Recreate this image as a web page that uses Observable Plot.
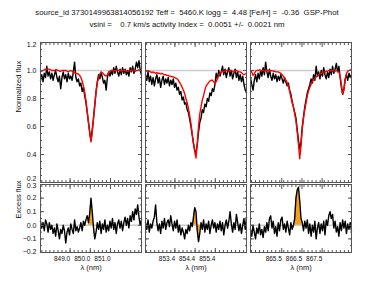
<!DOCTYPE html>
<html><head><meta charset="utf-8">
<script src="https://cdn.jsdelivr.net/npm/d3@7"></script>
<script src="https://cdn.jsdelivr.net/npm/@observablehq/plot@0.6"></script>
<style>
body{margin:0;background:#fff;}
#wrap{position:relative;width:374px;height:281px;font-family:"Liberation Sans",Arial,Helvetica,sans-serif;color:#111;overflow:hidden;}
.t{position:absolute;left:0;width:374px;text-align:center;white-space:pre;font-size:7.8px;line-height:12px;}
#top{position:absolute;left:0;top:32px;}
#bot{position:absolute;left:0;top:183px;}
</style></head><body>
<div id="wrap">
<div class="t" id="t1" style="top:7px"></div>
<div class="t" id="t2" style="top:19px"></div>
<div id="top"></div><div id="bot"></div>
</div>
<script>
const titleLine1 = "source_id 3730149963814056192 Teff =  5460.K logg =  4.48 [Fe/H] =  -0.36  GSP-Phot";
const titleLine2 = "vsini =    0.7 km/s activity Index =  0.0051 +/-  0.0021 nm";
const yLabelTop = "Normalized flux";
const yLabelBottom = "Excess flux";
const xLabel = "λ (nm)";

const panels = ["850", "854", "866"];
const lineCenters = [850.035, 854.444, 866.452];
const halfRange = 2.5;      // nm each side of line centre
const sampleStep = 0.0625;  // nm per sample
const xTickLabels = [["849.0","850.0","851.0"],["853.4","854.4","855.4"],["865.5","866.5","867.5"]];
const excessWindows = [[849.90, 850.23], [854.31, 854.70], [866.13, 866.52]];
const yTicksTop = [0.2, 0.4, 0.6, 0.8, 1.0, 1.2];
const yTicksBottom = [-0.2, -0.1, 0.0, 0.1, 0.2, 0.3];

// observed normalized flux
const obs850 = [0.93,0.97,0.92,0.98,0.95,1.03,0.96,0.99,0.94,0.98, 0.93,0.97,1.0,0.95,0.92,0.96,0.87,0.95,0.99,0.94, 0.97,0.92,0.98,0.94,0.96,0.93,0.99,1.06,0.95,0.92, 0.94,0.89,0.91,0.85,0.88,0.82,0.77,0.7,0.63,0.56, 0.5,0.58,0.66,0.75,0.85,0.92,0.97,0.94,0.99,0.95, 0.91,0.93,0.86,0.95,0.99,0.96,1.0,0.97,1.02,0.98, 1.03,0.99,0.96,1.01,0.97,1.02,0.98,1.01,0.97,1.0, 0.96,1.02,0.99,1.03,0.98,1.01,1.06,1.02,1.07,1.0,0.97];
const obs854 = [0.97,0.93,0.99,0.92,0.96,0.9,0.95,0.89,0.94,0.97, 0.91,0.95,0.88,0.93,0.96,0.9,0.94,0.91,0.95,0.89, 0.93,0.9,0.94,0.88,0.91,0.86,0.88,0.83,0.85,0.79, 0.81,0.76,0.77,0.72,0.7,0.65,0.6,0.54,0.48,0.43, 0.41,0.47,0.56,0.63,0.66,0.72,0.7,0.76,0.74,0.8, 0.78,0.84,0.82,0.87,0.85,0.9,0.98,0.94,1.0,0.96, 0.99,1.03,0.97,1.01,0.95,0.99,1.02,0.96,1.0,0.94, 0.98,1.01,0.95,0.99,0.93,0.97,0.92,0.96,0.9,0.86,0.84];
const obs866 = [0.95,0.9,0.86,0.93,0.97,0.92,0.98,0.94,1.0,0.96, 1.02,0.97,1.06,0.99,0.95,1.01,0.96,0.93,0.98,0.94, 0.97,0.92,0.96,0.93,0.97,0.94,0.91,0.95,0.92,0.89, 0.91,0.86,0.83,0.78,0.74,0.7,0.66,0.58,0.5,0.44, 0.49,0.6,0.67,0.74,0.79,0.84,0.87,0.9,0.94,0.91, 0.97,0.93,1.03,0.96,0.99,0.94,1.0,0.96,1.02,0.97, 0.94,0.99,0.95,1.01,0.97,1.03,0.98,1.01,1.05,0.99, 1.03,0.95,0.88,0.83,0.87,0.94,0.97,0.93,0.98,0.95,0.97];
// model spectrum
const model850 = [0.99,0.995,1.0,1.005,1.01,1.01,1.01,1.01,1.005,1.0, 1.0,1.0,1.005,1.005,1.0,0.995,0.995,1.0,1.0,1.0, 1.0,0.995,0.99,0.995,1.0,0.995,0.99,0.985,0.98,0.978, 0.975,0.965,0.95,0.925,0.89,0.845,0.785,0.71,0.63,0.55, 0.49,0.56,0.665,0.76,0.845,0.91,0.95,0.975,0.985,0.985, 0.975,0.965,0.96,0.97,0.985,0.995,1.0,1.0,0.995,1.0, 1.0,1.005,1.0,1.0,0.995,1.0,1.0,1.0,0.995,0.995, 1.0,1.0,1.005,1.0,1.0,0.995,1.0,1.0,1.005,1.0,1.0];
const model854 = [1.0,0.995,0.99,0.995,0.99,0.985,0.99,0.985,0.98,0.985, 0.98,0.98,0.975,0.98,0.975,0.97,0.97,0.965,0.965,0.96, 0.96,0.955,0.955,0.95,0.945,0.94,0.93,0.915,0.9,0.88, 0.86,0.835,0.8,0.77,0.73,0.68,0.62,0.55,0.48,0.42, 0.375,0.48,0.6,0.69,0.74,0.79,0.82,0.86,0.89,0.9, 0.915,0.925,0.93,0.93,0.92,0.91,0.92,0.945,0.965,0.98, 0.99,0.995,0.99,0.995,1.0,1.0,0.995,1.0,1.0,0.995, 0.99,0.995,1.0,0.995,0.99,0.99,0.985,0.975,0.97,0.975,0.98];
const model866 = [1.0,0.99,0.965,0.975,0.995,1.0,1.0,1.005,1.0,1.0, 1.0,0.995,1.0,1.0,1.0,0.995,0.995,1.0,0.995,0.995, 0.99,0.99,0.99,0.985,0.98,0.97,0.96,0.945,0.93,0.915, 0.89,0.85,0.81,0.77,0.74,0.69,0.64,0.56,0.47,0.37, 0.46,0.58,0.66,0.72,0.77,0.82,0.855,0.88,0.9,0.92, 0.935,0.945,0.955,0.96,0.97,0.975,0.98,0.985,0.99,0.99, 0.995,0.995,1.0,0.995,1.0,1.0,1.0,0.995,1.0,0.995, 0.99,0.96,0.9,0.83,0.86,0.93,0.98,0.995,1.0,1.005,1.0];
// excess flux
const excess850 = [0.03,-0.02,0.02,-0.04,0.04,0.01,-0.05,0.02,-0.03,0.0, -0.06,-0.02,-0.08,0.01,-0.04,-0.1,-0.03,-0.06,0.0,-0.04, -0.13,-0.05,-0.02,-0.07,0.01,-0.03,-0.06,0.04,-0.04,-0.01, -0.05,-0.02,0.02,-0.04,0.03,0.0,0.04,0.07,0.02,0.09, 0.2,0.1,-0.02,-0.1,-0.05,0.02,-0.03,0.03,-0.06,0.01, -0.03,0.04,-0.05,0.0,-0.04,0.03,-0.02,0.05,-0.03,0.02, -0.06,0.01,0.04,-0.02,0.03,-0.04,0.02,0.06,0.0,0.05, -0.02,0.07,0.03,0.1,0.04,0.12,0.08,0.15,0.06,0.0,0.04];
const excess854 = [0.02,-0.03,0.04,-0.05,0.01,-0.02,0.03,0.06,0.15,0.02, -0.04,0.01,-0.06,0.03,-0.02,0.05,-0.03,0.02,0.04,-0.01, 0.07,0.01,-0.04,0.03,-0.02,0.04,-0.05,0.0,-0.07,-0.02, -0.05,-0.1,-0.03,-0.06,0.0,-0.04,0.02,-0.01,0.06,0.13, 0.1,-0.04,-0.12,-0.06,0.02,-0.03,0.04,-0.05,0.01,-0.03, 0.03,-0.06,0.0,0.04,-0.02,0.02,-0.05,0.01,-0.03,0.03, -0.04,0.02,-0.07,0.0,0.04,-0.02,0.03,0.1,0.01,-0.05, 0.02,-0.03,0.08,0.02,-0.04,0.01,-0.06,0.0,0.05,-0.03,0.06];
const excess866 = [-0.03,-0.08,0.0,-0.05,-0.1,-0.02,-0.06,0.01,-0.07,-0.03, -0.09,-0.01,-0.05,0.02,-0.04,0.05,0.07,-0.02,0.03,-0.06, -0.01,-0.08,0.02,-0.04,0.04,0.06,-0.03,0.01,-0.05,0.03, -0.02,-0.07,0.02,-0.03,0.0,0.05,0.2,0.26,0.28,0.18, 0.05,0.02,-0.04,0.03,-0.02,0.04,-0.06,0.01,-0.08,0.0, -0.05,0.03,-0.1,-0.02,0.02,-0.06,0.01,-0.04,0.03,-0.07, 0.04,0.0,0.07,0.1,0.05,0.08,-0.02,0.03,-0.05,-0.01, -0.08,0.02,-0.04,0.04,-0.02,0.03,-0.06,0.01,-0.03,0.02,-0.04];

document.getElementById("t1").textContent = titleLine1;
document.getElementById("t2").textContent = titleLine2;

const obsAll = [obs850, obs854, obs866];
const modelAll = [model850, model854, model866];
const excessAll = [excess850, excess854, excess866];

const rows = [];
panels.forEach((p, k) => {
  obsAll[k].forEach((v, i) => {
    const d = -halfRange + i * sampleStep;
    const wl = lineCenters[k] + d;
    rows.push({panel: p, d, wl, obs: v, model: modelAll[k][i], excess: excessAll[k][i],
      inWin: wl >= excessWindows[k][0] && wl <= excessWindows[k][1]});
  });
});
const winRows = rows.filter(r => r.inWin);

const xMajorRows = [];
const xMinorRows = [];
panels.forEach((p, k) => {
  xTickLabels[k].forEach(l => xMajorRows.push({panel: p, d: +l - lineCenters[k], label: l}));
  const lo = Math.ceil((lineCenters[k] - halfRange) / 0.2), hi = Math.floor((lineCenters[k] + halfRange) / 0.2);
  for (let j = lo; j <= hi; j++) xMinorRows.push({panel: p, d: j * 0.2 - lineCenters[k]});
});

const font = '"Liberation Sans", Arial, Helvetica, sans-serif';
const frameColor = "#555";
const style = {fontFamily: font, fontSize: "7px", background: "transparent", overflow: "visible", color: "#111"};
const fxOpts = {domain: panels, paddingInner: 4 / 105, paddingOuter: 0, axis: null};
const fmt = d3.format(".1f");

function ticks(yMajor, yMinor) {
  const o = {fill: "none", stroke: frameColor, label: null, facetAnchor: null};
  return [
    Plot.axisY(yMinor, {...o, anchor: "left", tickSize: -2}),
    Plot.axisY(yMinor, {...o, anchor: "right", tickSize: -2}),
    Plot.axisY(yMajor, {...o, anchor: "left", tickSize: -4}),
    Plot.axisY(yMajor, {...o, anchor: "right", tickSize: -4}),
    Plot.axisX(xMinorRows, {...o, x: "d", fx: "panel", anchor: "bottom", tickSize: -2}),
    Plot.axisX(xMinorRows, {...o, x: "d", fx: "panel", anchor: "top", tickSize: -2}),
    Plot.axisX(xMajorRows, {...o, x: "d", fx: "panel", anchor: "bottom", tickSize: -4}),
    Plot.axisX(xMajorRows, {...o, x: "d", fx: "panel", anchor: "top", tickSize: -4})
  ];
}
// y tick labels; the two end labels are nudged inward like the original
function yLabels(vals, nudgeLow, nudgeHigh) {
  const mid = vals.slice(1, -1);
  const o = {anchor: "left", tickSize: 0, tickPadding: 4, tickFormat: fmt, label: null};
  return [
    Plot.axisY(mid, o),
    Plot.axisY([vals[0]], {...o, dy: nudgeLow}),
    Plot.axisY([vals[vals.length - 1]], {...o, dy: nudgeHigh})
  ];
}

const topPlot = Plot.plot({
  width: 374, height: 151, marginTop: 10, marginBottom: 1, marginLeft: 40, marginRight: 23,
  style, fx: fxOpts,
  x: {domain: [-halfRange, halfRange], axis: null},
  y: {domain: [0.2, 1.2], axis: null},
  marks: [
    Plot.ruleY([1], {stroke: "#cccccc", strokeWidth: 1.5}),
    Plot.line(rows, {x: "d", y: "obs", fx: "panel", stroke: "#000", strokeWidth: 1.4}),
    Plot.line(rows, {x: "d", y: "model", fx: "panel", stroke: "#ff0000", strokeWidth: 1.4}),
    Plot.frame({stroke: frameColor}),
    ...ticks(yTicksTop, d3.range(0.2, 1.2001, 0.05)),
    ...yLabels(yTicksTop, -4, 2),
    Plot.text([yLabelTop], {text: d => d, frameAnchor: "left", rotate: -90, dx: -22, facetAnchor: "left", fontSize: 7.5})
  ]
});
document.getElementById("top").appendChild(topPlot);

const botPlot = Plot.plot({
  width: 374, height: 98, marginTop: 1, marginBottom: 29, marginLeft: 40, marginRight: 23,
  style, fx: fxOpts,
  x: {domain: [-halfRange, halfRange], axis: null},
  y: {domain: [-0.2, 0.3], axis: null},
  marks: [
    Plot.ruleY([0], {stroke: "#cccccc", strokeWidth: 1.5}),
    Plot.areaY(winRows, {x: "d", y: "excess", fx: "panel", fill: "#f4a21a"}),
    Plot.line(rows, {x: "d", y: "excess", fx: "panel", stroke: "#000", strokeWidth: 1.4}),
    Plot.frame({stroke: frameColor}),
    ...ticks(yTicksBottom, d3.range(-0.2, 0.3001, 0.05)),
    ...yLabels(yTicksBottom, -1, 1),
    Plot.text([yLabelBottom], {text: d => d, frameAnchor: "left", rotate: -90, dx: -22, facetAnchor: "left", fontSize: 7.5}),
    Plot.text(xMajorRows, {x: "d", fx: "panel", text: "label", frameAnchor: "bottom", dy: 8, dx: -8, fontSize: 6.5}),
    Plot.text([xLabel], {text: d => d, frameAnchor: "bottom", dy: 17, fontSize: 7.5})
  ]
});
document.getElementById("bot").appendChild(botPlot);
</script>
</body></html>
